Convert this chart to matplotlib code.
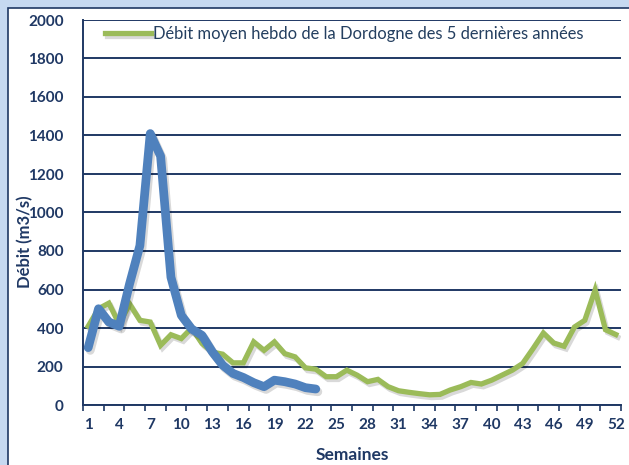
import numpy as np
import matplotlib
matplotlib.use("Agg")
import matplotlib.pyplot as plt
import matplotlib.patheffects as pe
from matplotlib.patches import Rectangle

# weekly flow of the Dordogne (m3/s)
weeks = list(range(1, 53))
avg_5y = [409, 500, 529, 420, 525, 440, 431, 310, 365, 345,
          400, 320, 275, 264, 219, 219, 328, 284, 328, 267,
          250, 193, 186, 147, 147, 181, 155, 121, 133, 95,
          74, 66, 59, 53, 55, 78, 95, 117, 109, 129,
          155, 181, 216, 293, 374, 322, 305, 405, 440, 598,
          391, 366]
weeks_cur = list(range(1, 24))
current = [298, 500, 431, 409, 629, 828, 1410, 1293, 664, 466,
           395, 362, 276, 207, 164, 143, 116, 95, 129, 121,
           109, 90, 83]
legend_label = "Débit moyen hebdo de la Dordogne des 5 dernières années"
xtick_labels = [str(w) for w in range(1, 53, 3)]

navy = "#1f3864"
green = "#9bbb59"
blue = "#4f81bd"

fig = plt.figure(figsize=(6.29, 4.65), dpi=100, facecolor="#c6d9f1")
fig.patches.append(Rectangle((8 / 629, -0.1), 1.1, 1 - 8 / 465 + 0.1,
                             transform=fig.transFigure, facecolor="white",
                             edgecolor=navy, linewidth=1.2, zorder=-5))

ax = fig.add_axes([83 / 629, 1 - 405 / 465, (621 - 83) / 629, (405 - 20) / 465])
ax.set_facecolor("none")
ax.set_zorder(2)

shadow = [pe.SimpleLineShadow(offset=(1.5, -2), alpha=0.15), pe.Normal()]
ax.plot(weeks, avg_5y, color=green, lw=3.8, solid_joinstyle="miter",
        label=legend_label, zorder=3, path_effects=shadow)
ax.plot(weeks_cur, current, color=blue, lw=6.3, solid_capstyle="round",
        solid_joinstyle="round", zorder=4, path_effects=shadow)

ax.set_xlim(0.5, 52.5)
ax.set_ylim(0, 2000)
ax.set_yticks(range(0, 2001, 200))
ax.set_xticks(range(1, 53, 3))
ax.set_xticklabels(xtick_labels)
ax.set_xticks(np.arange(0.5, 53, 2), minor=True)
ax.tick_params(axis="x", which="major", length=0, pad=9)
ax.tick_params(axis="x", which="minor", length=4, width=1.2, color=navy, direction="out")
ax.tick_params(axis="y", length=0, pad=14)
for lab in ax.get_xticklabels() + ax.get_yticklabels():
    lab.set_fontfamily("Lato")
    lab.set_fontweight("bold")
    lab.set_fontsize(11)
    lab.set_color(navy)

ax.grid(axis="y", color=navy, lw=1.4, zorder=1)
ax.set_axisbelow(True)
for s in ["top", "right"]:
    ax.spines[s].set_visible(False)
for s in ["left", "bottom"]:
    ax.spines[s].set_color(navy)
    ax.spines[s].set_linewidth(1.4)

fig.text(352 / 629, 1 - 455 / 465, "Semaines", ha="center", va="center",
         fontfamily="Lato", fontweight="bold", fontsize=12.5, color=navy)
fig.text(25 / 629, 1 - 242 / 465, "Débit (m3/s)", ha="center", va="center",
         rotation=90, fontfamily="Lato", fontweight="bold", fontsize=12, color=navy)

leg = ax.legend(loc="center left", bbox_to_anchor=(0.028, 0.963), frameon=False,
                handlelength=2.8, handletextpad=0.15, borderaxespad=0,
                prop={"family": "Lato", "size": 11.9})
for t in leg.get_texts():
    t.set_color("#243f60")

fig.savefig("out.png", dpi=100, facecolor=fig.get_facecolor())
